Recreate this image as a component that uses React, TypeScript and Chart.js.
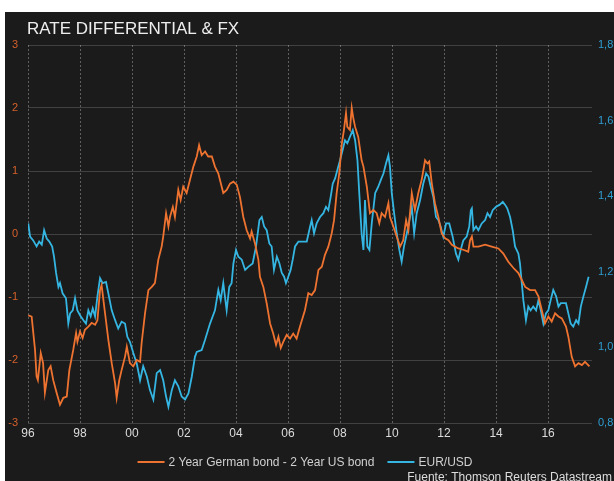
import { useEffect, useRef } from "react";
import { Chart, registerables } from "chart.js";

Chart.register(...registerables);

// ---- Data ----
const titleText = "RATE DIFFERENTIAL & FX";
const sourceText = "Fuente: Thomson Reuters Datastream";
const seriesLabels = ["2 Year German bond - 2 Year US bond", "EUR/USD"];

const xTickYears = [1996, 1998, 2000, 2002, 2004, 2006, 2008, 2010, 2012, 2014, 2016];
const leftTicks = [-3, -2, -1, 0, 1, 2, 3];
const rightTicks = [0.8, 1.0, 1.2, 1.4, 1.6, 1.8];

const spreadYears = [
  1996.01, 1996.14, 1996.27, 1996.33, 1996.38, 1996.49, 1996.58, 1996.65, 1996.78, 1996.87,
  1996.97, 1997.1, 1997.23, 1997.36, 1997.49, 1997.59, 1997.74, 1997.85, 1997.9, 1998.0,
  1998.1, 1998.19, 1998.32, 1998.45, 1998.58, 1998.67, 1998.77, 1998.83, 1998.96, 1999.09,
  1999.22, 1999.35, 1999.41, 1999.51, 1999.6, 1999.73, 1999.8, 1999.92, 2000.05, 2000.18,
  2000.31, 2000.37, 2000.5, 2000.63, 2000.76, 2000.88, 2001.01, 2001.14, 2001.2, 2001.31,
  2001.4, 2001.46, 2001.57, 2001.65, 2001.78, 2001.87, 2001.97, 2002.1, 2002.23, 2002.36,
  2002.49, 2002.58, 2002.68, 2002.81, 2002.93, 2003.07, 2003.19, 2003.32, 2003.51, 2003.64,
  2003.77, 2003.9, 2004.03, 2004.15, 2004.28, 2004.41, 2004.54, 2004.6, 2004.73, 2004.86,
  2004.92, 2005.05, 2005.18, 2005.31, 2005.43, 2005.54, 2005.63, 2005.72, 2005.82, 2005.95,
  2006.08, 2006.2, 2006.33, 2006.46, 2006.65, 2006.78, 2006.91, 2007.04, 2007.17, 2007.3,
  2007.42, 2007.55, 2007.68, 2007.77, 2007.87, 2007.97, 2008.07, 2008.15, 2008.23, 2008.28,
  2008.38, 2008.45, 2008.51, 2008.58, 2008.7, 2008.83, 2008.9, 2009.03, 2009.15, 2009.28,
  2009.41, 2009.51, 2009.6, 2009.73, 2009.86, 2009.92, 2010.05, 2010.18, 2010.31, 2010.43,
  2010.54, 2010.63, 2010.76, 2010.88, 2011.01, 2011.14, 2011.27, 2011.36, 2011.43, 2011.53,
  2011.65, 2011.78, 2011.91, 2012.04, 2012.17, 2012.3, 2012.42, 2012.55, 2012.74, 2012.93,
  2013.0, 2013.07, 2013.13, 2013.32, 2013.58, 2013.83, 2014.09, 2014.28, 2014.47, 2014.67,
  2014.86, 2014.99, 2015.12, 2015.31, 2015.5, 2015.63, 2015.76, 2015.88, 2016.01, 2016.14,
  2016.27, 2016.4, 2016.53, 2016.69, 2016.78, 2016.91, 2017.04, 2017.17, 2017.3, 2017.42,
  2017.59,
];
const spreadValues = [
  -1.29, -1.31, -1.84, -2.26, -2.32, -1.89, -2.05, -2.52, -2.16, -2.1,
  -2.32, -2.52, -2.71, -2.6, -2.58, -2.16, -1.84, -1.57, -1.71, -1.55,
  -1.65, -1.52, -1.47, -1.41, -1.44, -1.37, -0.89, -0.81, -1.25, -1.68,
  -2.05, -2.37, -2.6, -2.32, -2.16, -1.95, -1.79, -2.05, -2.1, -2.0,
  -2.03, -1.73, -1.26, -0.89, -0.84, -0.78, -0.41, -0.2, -0.04, 0.33,
  0.12, 0.27, 0.43, 0.27, 0.7, 0.54, 0.75, 0.65, 0.86, 1.07,
  1.23, 1.41, 1.25, 1.31, 1.23, 1.23, 1.07, 0.96, 0.65, 0.7,
  0.8, 0.83, 0.78, 0.59, 0.27, 0.06, -0.07, 0.04, -0.15, -0.41,
  -0.68, -0.84, -1.1, -1.42, -1.58, -1.76, -1.63, -1.81, -1.71, -1.6,
  -1.66, -1.58, -1.66, -1.47, -1.21, -0.94, -0.97, -0.89, -0.57, -0.52,
  -0.33, -0.2, 0.01, 0.22, 0.65, 0.96, 1.44, 1.65, 1.92, 1.7,
  1.65, 2.0, 1.84, 1.7, 1.54, 1.17, 1.07, 0.75, 0.33, 0.38,
  0.33, 0.17, 0.33, 0.27, 0.49, 0.27, 0.12, -0.04, -0.2, -0.1,
  0.22, 0.06, 0.65, 0.38, 0.65, 0.86, 1.17, 1.12, 1.15, 0.8,
  0.49, 0.27, 0.01, -0.07, -0.1, -0.17, -0.2, -0.23, -0.25, -0.28,
  -0.1, -0.04, -0.2, -0.2, -0.17, -0.2, -0.23, -0.31, -0.44, -0.54,
  -0.62, -0.73, -0.84, -0.89, -0.89, -0.99, -1.21, -1.42, -1.31, -1.39,
  -1.26, -1.31, -1.34, -1.47, -1.63, -1.95, -2.1, -2.05, -2.08, -2.03,
  -2.1,
];

const fxYears = [
  1996.01, 1996.08, 1996.2, 1996.33, 1996.43, 1996.53, 1996.62, 1996.72, 1996.82, 1996.93,
  1997.0, 1997.08, 1997.17, 1997.23, 1997.33, 1997.46, 1997.55, 1997.62, 1997.72, 1997.81,
  1997.9, 1998.0, 1998.13, 1998.23, 1998.32, 1998.41, 1998.49, 1998.58, 1998.67, 1998.77,
  1998.87, 1999.0, 1999.09, 1999.22, 1999.35, 1999.47, 1999.6, 1999.73, 1999.82, 1999.92,
  2000.05, 2000.18, 2000.31, 2000.43, 2000.57, 2000.69, 2000.82, 2000.95, 2001.08, 2001.2,
  2001.31, 2001.4, 2001.53, 2001.65, 2001.78, 2001.91, 2002.04, 2002.17, 2002.3, 2002.42,
  2002.49, 2002.68, 2002.81, 2003.0, 2003.19, 2003.32, 2003.41, 2003.51, 2003.64, 2003.74,
  2003.83, 2003.9, 2004.0, 2004.09, 2004.22, 2004.35, 2004.47, 2004.64, 2004.77, 2004.9,
  2004.99, 2005.08, 2005.18, 2005.28, 2005.37, 2005.46, 2005.57, 2005.67, 2005.76, 2005.85,
  2005.92, 2006.01, 2006.1, 2006.18, 2006.27, 2006.4, 2006.59, 2006.72, 2006.85, 2006.91,
  2007.0, 2007.1, 2007.23, 2007.36, 2007.46, 2007.55, 2007.64, 2007.72, 2007.81, 2007.9,
  2008.0, 2008.1, 2008.19, 2008.28, 2008.38, 2008.49, 2008.58, 2008.67, 2008.74, 2008.83,
  2008.9, 2008.96, 2009.05, 2009.13, 2009.22, 2009.35, 2009.47, 2009.57, 2009.67, 2009.77,
  2009.86, 2009.92, 2009.99, 2010.08, 2010.18, 2010.28, 2010.37, 2010.46, 2010.57, 2010.67,
  2010.76, 2010.85, 2010.95, 2011.08, 2011.2, 2011.31, 2011.4, 2011.49, 2011.59, 2011.69,
  2011.78, 2011.87, 2011.97, 2012.08, 2012.2, 2012.33, 2012.46, 2012.55, 2012.64, 2012.74,
  2012.87, 2012.97, 2013.03, 2013.07, 2013.13, 2013.23, 2013.32, 2013.45, 2013.58, 2013.67,
  2013.77, 2013.87, 2014.0, 2014.13, 2014.26, 2014.35, 2014.43, 2014.54, 2014.64, 2014.73,
  2014.86, 2014.92, 2014.99, 2015.05, 2015.15, 2015.24, 2015.33, 2015.43, 2015.54, 2015.63,
  2015.72, 2015.82, 2015.92, 2016.01, 2016.1, 2016.2, 2016.31, 2016.4, 2016.49, 2016.59,
  2016.69, 2016.78, 2016.87, 2016.97, 2017.08, 2017.17, 2017.26, 2017.36, 2017.46, 2017.56,
];
const fxValues = [
  1.328, 1.293, 1.283, 1.267, 1.28, 1.272, 1.31, 1.288, 1.28, 1.267,
  1.24, 1.197, 1.16, 1.17, 1.143, 1.13, 1.063, 1.09, 1.098, 1.13,
  1.098, 1.085, 1.072, 1.063, 1.098, 1.082, 1.103, 1.082, 1.135, 1.183,
  1.17, 1.173, 1.143, 1.098, 1.072, 1.05, 1.068, 1.063, 1.028, 1.015,
  0.985, 0.958, 0.913, 0.95, 0.923, 0.887, 0.862, 0.932, 0.94, 0.913,
  0.87, 0.843, 0.887, 0.913, 0.897, 0.87, 0.862, 0.878, 0.923, 0.975,
  0.988, 0.993, 1.02, 1.063, 1.098, 1.152, 1.125, 1.17, 1.098, 1.16,
  1.17, 1.222, 1.258, 1.24, 1.232, 1.205, 1.213, 1.222, 1.267, 1.337,
  1.345, 1.32, 1.31, 1.275, 1.267, 1.205, 1.24, 1.222, 1.197, 1.187,
  1.17, 1.187, 1.205, 1.232, 1.267, 1.28, 1.28, 1.28, 1.32, 1.337,
  1.302, 1.328, 1.345, 1.355, 1.372, 1.363, 1.398, 1.433, 1.447, 1.47,
  1.495, 1.522, 1.548, 1.54, 1.557, 1.575, 1.548, 1.495, 1.408, 1.302,
  1.258, 1.39, 1.267, 1.258, 1.328, 1.408, 1.425, 1.443, 1.46, 1.487,
  1.508, 1.478, 1.408, 1.355, 1.302, 1.258, 1.227, 1.267, 1.302, 1.337,
  1.372, 1.302, 1.355, 1.39, 1.433, 1.46, 1.452, 1.425, 1.398, 1.345,
  1.337, 1.32, 1.293, 1.328, 1.328, 1.293, 1.248, 1.232, 1.258, 1.283,
  1.293, 1.32, 1.363, 1.368, 1.31, 1.32, 1.31, 1.328, 1.337, 1.355,
  1.345, 1.363, 1.372, 1.377, 1.385, 1.377, 1.368, 1.345, 1.31, 1.267,
  1.248, 1.222, 1.17, 1.125, 1.072, 1.108, 1.098, 1.108, 1.098, 1.125,
  1.098, 1.063, 1.09, 1.098, 1.125, 1.152, 1.135, 1.108, 1.117, 1.117,
  1.117, 1.09, 1.063, 1.055, 1.072, 1.063, 1.108, 1.135, 1.16, 1.187,
];

// ---- Styles ----
const FONT = "'Liberation Sans', Arial, sans-serif";
const BG = "#1b1b1b";
const ORANGE = "#ef7330";
const CYAN = "#35b6e2";

const decorPlugin = {
  id: "decor",
  beforeDraw(chart: any) {
    const { ctx, width, height } = chart;
    ctx.save();
    ctx.fillStyle = "#ffffff";
    ctx.fillRect(0, 0, width, height);
    ctx.fillStyle = BG;
    ctx.fillRect(5, 12, width - 5, height - 12);
    ctx.restore();
  },
  afterDraw(chart: any) {
    const { ctx } = chart;
    ctx.save();
    // title
    ctx.fillStyle = "#eeeeee";
    ctx.font = `17px ${FONT}`;
    ctx.textAlign = "left";
    ctx.textBaseline = "alphabetic";
    ctx.fillText(titleText, 27, 34);

    // legend
    ctx.font = `12px ${FONT}`;
    const lineLen = 27;
    const gap = 4;
    const itemGap = 13;
    const items = chart.data.datasets.map((ds: any) => ({
      label: ds.label,
      color: ds.borderColor,
      w: lineLen + gap + ctx.measureText(ds.label).width,
    }));
    const total = items.reduce((s: number, it: any) => s + it.w, 0) + itemGap * (items.length - 1);
    let x = 305 - total / 2;
    const ly = 462;
    items.forEach((it: any) => {
      ctx.strokeStyle = it.color;
      ctx.lineWidth = 2;
      ctx.beginPath();
      ctx.moveTo(x, ly);
      ctx.lineTo(x + lineLen, ly);
      ctx.stroke();
      ctx.fillStyle = "#d0d0d0";
      ctx.textBaseline = "middle";
      ctx.fillText(it.label, x + lineLen + gap, ly + 0.5);
      x += it.w + itemGap;
    });

    // source
    ctx.fillStyle = "#dddddd";
    ctx.font = `12px ${FONT}`;
    ctx.textAlign = "right";
    ctx.textBaseline = "alphabetic";
    ctx.fillText(sourceText, 612, 481);
    ctx.restore();
  },
};

export default function App() {
  const ref = useRef<HTMLCanvasElement | null>(null);

  useEffect(() => {
    if (!ref.current) return;
    const chart = new Chart(ref.current, {
      type: "line",
      data: {
        datasets: [
          {
            label: seriesLabels[0],
            data: spreadYears.map((yr, i) => ({ x: yr, y: spreadValues[i] })),
            borderColor: ORANGE,
            backgroundColor: ORANGE,
            borderWidth: 1.8,
            pointRadius: 0,
            tension: 0,
            yAxisID: "y",
          },
          {
            label: seriesLabels[1],
            data: fxYears.map((yr, i) => ({ x: yr, y: fxValues[i] })),
            borderColor: CYAN,
            backgroundColor: CYAN,
            borderWidth: 1.8,
            pointRadius: 0,
            tension: 0,
            yAxisID: "y1",
          },
        ],
      },
      options: {
        animation: false,
        responsive: false,
        devicePixelRatio: 1,
        layout: { padding: { top: 45, bottom: 38, left: 0, right: 0 } },
        plugins: {
          legend: { display: false },
          tooltip: { enabled: false },
          title: { display: false },
        },
        scales: {
          x: {
            type: "linear",
            position: "bottom",
            min: 1996,
            max: 2017.69,
            afterBuildTicks: (axis: any) => {
              axis.ticks = xTickYears.map((v) => ({ value: v }));
            },
            afterFit: (axis: any) => {
              axis.height = 20;
            },
            ticks: {
              autoSkip: false,
              maxRotation: 0,
              padding: 3,
              color: "#dcdcdc",
              font: { family: FONT, size: 12 },
              callback: (v: any) => String(Math.round(Number(v)) % 100).padStart(2, "0"),
            },
            grid: { color: "rgba(255,255,255,0.30)", lineWidth: 1, drawTicks: false },
            border: { display: false, dash: [2, 2] },
          },
          y: {
            position: "left",
            min: -3,
            max: 3,
            afterBuildTicks: (axis: any) => {
              axis.ticks = leftTicks.map((v) => ({ value: v }));
            },
            afterFit: (axis: any) => {
              axis.width = 28;
            },
            ticks: {
              autoSkip: false,
              padding: 10,
              color: "#d5602b",
              font: { family: FONT, size: 11 },
              callback: (v: any) => String(v),
            },
            grid: { color: "rgba(255,255,255,0.17)", lineWidth: 1, drawTicks: false },
            border: { display: false },
          },
          y1: {
            position: "right",
            min: 0.8,
            max: 1.8,
            afterBuildTicks: (axis: any) => {
              axis.ticks = rightTicks.map((v) => ({ value: v }));
            },
            afterFit: (axis: any) => {
              axis.width = 22;
            },
            ticks: {
              autoSkip: false,
              padding: 6,
              color: "#2f9dd2",
              font: { family: FONT, size: 11 },
              callback: (v: any) => Number(v).toFixed(1).replace(".", ","),
            },
            grid: { display: false, drawTicks: false },
            border: { display: false },
          },
        },
      },
      plugins: [decorPlugin],
    } as any);
    return () => chart.destroy();
  }, []);

  return (
    <div style={{ position: "fixed", left: 0, top: 0, width: 614, height: 481 }}>
      <canvas ref={ref} width={614} height={481} style={{ display: "block", width: 614, height: 481 }} />
    </div>
  );
}
